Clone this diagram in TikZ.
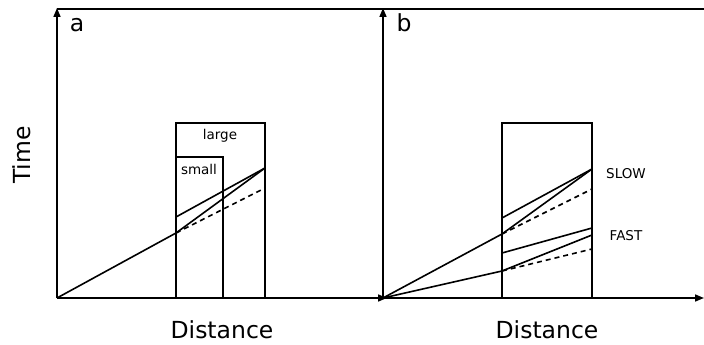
\documentclass[tikz,border=0pt]{standalone}
\usepackage{fontspec}
\setmainfont{DejaVu Sans}
\usetikzlibrary{arrows.meta}
\begin{document}
\begin{tikzpicture}[x=1pt,y=-1pt,
  ln/.style={line width=1.6pt},
  ax/.style={line width=1.6pt,-{Triangle[length=9pt,width=7pt]}},
  dsh/.style={line width=1.6pt,dash pattern=on 5pt off 4pt},
  big/.style={font=\fontsize{23.5}{26}\selectfont,inner sep=0pt},
  small/.style={font=\fontsize{13.5}{15}\selectfont,inner sep=0pt}]
\useasboundingbox (0,0) rectangle (704,345);
% top line
\coordinate (tl) at (57,9);
\coordinate (tr) at (704,9);
\draw[ln] (tl) -- (tr);
% panel a axes
\coordinate (oa) at (57,298);
\coordinate (ya) at (57,8);
\coordinate (xa) at (387,298);
\draw[ax] (oa) -- (ya);
\draw[ax] (oa) -- (xa);
% panel b axes
\coordinate (ob) at (383,298);
\coordinate (yb) at (383,8);
\coordinate (xb) at (704,298);
\draw[ax] (ob) -- (yb);
\draw[ax] (ob) -- (xb);
% panel a boxes
\coordinate (la1) at (176,298);
\coordinate (la2) at (265,123);
\coordinate (sa1) at (176,298);
\coordinate (sa2) at (223,157);
\draw[ln] (la1) rectangle (la2);
\draw[ln] (sa1) rectangle (sa2);
\node[small] (large) at (220,136) {large};
\node[small] (smalltxt) at (199,169) {small};
% panel a lines
\coordinate (a1) at (176,233);
\coordinate (a2) at (265,168);
\coordinate (a3) at (176,217);
\coordinate (a4) at (265,188);
\draw[ln] (oa) -- (a1) -- (a2);
\draw[ln] (a3) -- (a2);
\draw[dsh] (a1) -- (a4);
% panel b box
\coordinate (b1) at (502,298);
\coordinate (b2) at (592,123);
\draw[ln] (b1) rectangle (b2);
% slow
\coordinate (s1) at (502,234);
\coordinate (s2) at (592,169);
\coordinate (s3) at (502,218);
\coordinate (s4) at (592,189);
\draw[ln] (ob) -- (s1) -- (s2);
\draw[ln] (s3) -- (s2);
\draw[dsh] (s1) -- (s4);
% fast
\coordinate (f1) at (502,271);
\coordinate (f2) at (592,235);
\coordinate (f3) at (502,253);
\coordinate (f4) at (592,228);
\coordinate (f5) at (592,249);
\draw[ln] (ob) -- (f1) -- (f2);
\draw[ln] (f3) -- (f4);
\draw[dsh] (f1) -- (f5);
\node[small] (slow) at (626,174) {SLOW};
\node[small] (fast) at (626,236) {FAST};
% labels
\node[big] (la) at (77,25) {a};
\node[big] (lb) at (404,23) {b};
\node[big,rotate=90] (time) at (22,155) {Time};
\node[big] (da) at (222,330) {Distance};
\node[big] (db) at (547,330) {Distance};
\end{tikzpicture}
\end{document}
